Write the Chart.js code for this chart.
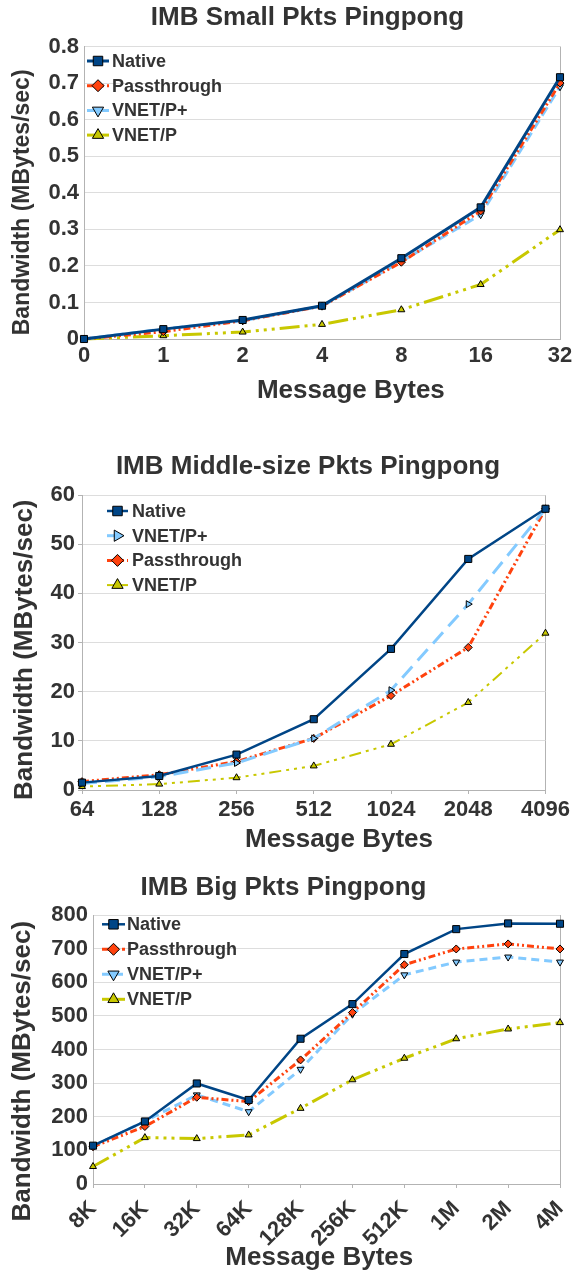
<!DOCTYPE html>
<html>
<head>
<meta charset="utf-8">
<script src="https://cdn.jsdelivr.net/npm/chart.js@4.4.1/dist/chart.umd.min.js"></script>
<style>
  html, body { margin: 0; padding: 0; background: #fff; width: 576px; height: 1274px; overflow: hidden; }
  canvas { position: absolute; left: 0; }
  #small { top: 0; }
  #middle { top: 449px; }
  #big { top: 869px; }
</style>
</head>
<body>
<canvas id="small" width="615" height="408"></canvas>
<canvas id="middle" width="616" height="410"></canvas>
<canvas id="big" width="567" height="405"></canvas>
<script>
// --- data ---
const smallBytes = ['0', '1', '2', '4', '8', '16', '32'];
const smallNative = [0, 0.027, 0.052, 0.091, 0.221, 0.36, 0.716];
const smallPass = [0, 0.02, 0.05, 0.09, 0.21, 0.35, 0.70];
const smallPlus = [0, 0.027, 0.05, 0.09, 0.212, 0.34, 0.69];
const smallVnet = [0, 0.009, 0.019, 0.04, 0.08, 0.149, 0.299];

const midBytes = ['64', '128', '256', '512', '1024', '2048', '4096'];
const midNative = [1.5, 2.85, 7.2, 14.4, 28.7, 47.0, 57.2];
const midPlus = [1.3, 2.7, 5.5, 10.5, 20.3, 37.8, 57.2];
const midPass = [1.7, 3.1, 5.8, 10.5, 19.2, 29.0, 57.2];
const midVnet = [0.7, 1.2, 2.5, 4.9, 9.3, 17.8, 31.9];

const bigBytes = ['8K', '16K', '32K', '64K', '128K', '256K', '512K', '1M', '2M', '4M'];
const bigNative = [114, 186, 299, 250, 432, 535, 684, 758, 775, 774];
const bigPass = [111, 171, 258, 245, 369, 510, 652, 699, 714, 699];
const bigPlus = [112, 187, 265, 215, 341, 505, 622, 660, 675, 660];
const bigVnet = [52, 138, 135, 146, 225, 310, 374, 432, 461, 480];

Chart.defaults.font.family = '"Liberation Sans", Arial, sans-serif';
Chart.defaults.font.weight = 'bold';
Chart.defaults.color = '#333333';

const TEXT = '#333333';
const GRID = '#dddddd';
const AXIS = '#b3b3b3';

// series looks (colours, markers) shared by the panels
function native(data, width) {
  return { label: 'Native', data, borderColor: '#004586', backgroundColor: '#004586', borderWidth: width,
    pointStyle: 'rect', pointRadius: 5, pointBackgroundColor: '#004586', pointBorderColor: '#000', pointBorderWidth: 1,
    legendRadius: 6.7, clip: false };
}
function passthrough(data, width) {
  return { label: 'Passthrough', data, borderColor: '#ff420e', backgroundColor: '#ff420e', borderWidth: width,
    borderDash: [7, 3, 2, 3, 2, 3], pointStyle: 'rectRot', pointRadius: 4, pointBackgroundColor: '#ff420e',
    pointBorderColor: '#000', pointBorderWidth: 1, legendRadius: 6, clip: false };
}
function vnetPlus(data, width, dash, rotation) {
  return { label: 'VNET/P+', data, borderColor: '#83caff', backgroundColor: '#83caff', borderWidth: width,
    borderDash: dash, pointStyle: 'triangle', rotation: rotation, pointRotation: rotation, pointRadius: 4,
    pointBackgroundColor: '#83caff', pointBorderColor: '#000', pointBorderWidth: 1, legendRadius: 6.5, clip: false };
}
function vnet(data, width, dash) {
  return { label: 'VNET/P', data, borderColor: '#c8c800', backgroundColor: '#c8c800', borderWidth: width,
    borderDash: dash, legendDash: [], pointStyle: 'triangle', pointRadius: 4, pointBackgroundColor: '#c8c800',
    pointBorderColor: '#000', pointBorderWidth: 1, legendRadius: 6.5, clip: false };
}

// legend drawn inside the plot, line sample + marker + label
const insideLegend = {
  id: 'insideLegend',
  afterDraw(chart, args, opts) {
    const ctx = chart.ctx;
    const area = chart.chartArea;
    ctx.save();
    chart.data.datasets.forEach((ds, i) => {
      const x = area.left + opts.x;
      const y = area.top + opts.y + i * opts.rowGap;
      ctx.beginPath();
      ctx.setLineDash(ds.legendDash || ds.borderDash || []);
      ctx.lineWidth = ds.borderWidth;
      ctx.strokeStyle = ds.borderColor;
      ctx.moveTo(x, y);
      ctx.lineTo(x + opts.lineLength, y);
      ctx.stroke();
      ctx.setLineDash([]);
      ctx.fillStyle = ds.pointBackgroundColor;
      ctx.strokeStyle = ds.pointBorderColor;
      ctx.lineWidth = 1;
      Chart.helpers.drawPoint(ctx, { pointStyle: ds.pointStyle, rotation: ds.pointRotation || 0,
        radius: ds.legendRadius, borderWidth: 1 }, x + opts.lineLength / 2, y);
      ctx.fillStyle = TEXT;
      ctx.font = 'bold 18px "Liberation Sans", Arial, sans-serif';
      ctx.textBaseline = 'middle';
      ctx.textAlign = 'left';
      ctx.fillText(ds.label, x + opts.lineLength + opts.textGap, y + 1);
    });
    ctx.restore();
  }
};

function xAxis(o) {
  return {
    offset: false,
    ticks: { autoSkip: false, maxRotation: o.rot, minRotation: o.rot, padding: o.tickPad,
      font: { size: 22, weight: 'bold' }, color: TEXT },
    grid: { color: c => (c.index === o.count - 1 ? AXIS : 'rgba(0,0,0,0)'),
      drawTicks: o.tickLen > 0, tickLength: o.tickLen, tickColor: AXIS },
    border: { color: AXIS },
    title: { display: true, text: o.title, font: { size: 26, weight: 'bold' }, color: TEXT,
      padding: { top: 0, bottom: o.titlePad } },
    afterFit(s) { s.height = o.height; s.paddingLeft = 0; s.paddingRight = 0; }
  };
}

function yAxis(o) {
  return {
    min: 0, max: o.max,
    ticks: { stepSize: o.step, padding: o.tickPad, font: { size: 22, weight: 'bold' }, color: TEXT,
      callback: o.callback },
    grid: { color: GRID, drawTicks: o.tickLen > 0, tickLength: o.tickLen, tickColor: AXIS },
    border: { color: AXIS },
    title: { display: true, text: o.title, font: { size: o.titleSize, weight: 'bold' }, color: TEXT,
      padding: { top: o.titlePad, bottom: 0 } },
    afterFit(s) { s.width = o.width; s.paddingTop = 0; s.paddingBottom = 0; }
  };
}

// empty right-hand strip so the page title centres like the original
function spacer(width) {
  return {
    type: 'linear', position: 'right', display: true,
    grid: { display: false }, border: { display: false }, ticks: { display: false },
    afterFit(s) { s.width = width; s.paddingTop = 0; s.paddingBottom = 0; }
  };
}

function panel(id, o) {
  return new Chart(document.getElementById(id), {
    type: 'line',
    data: { labels: o.labels, datasets: o.datasets },
    options: {
      responsive: false,
      animation: false,
      layout: { padding: 0 },
      elements: { line: { tension: 0 } },
      plugins: {
        legend: { display: false },
        tooltip: { enabled: false },
        title: { display: true, text: o.title, font: { size: 26, weight: 'bold' }, color: TEXT,
          padding: { top: o.titleTop, bottom: o.titleBottom } },
        insideLegend: o.legend
      },
      scales: { x: o.x, y: o.y, r: spacer(o.right) }
    },
    plugins: [insideLegend]
  });
}

panel('small', {
  title: 'IMB Small Pkts Pingpong', titleTop: 2.7, titleBottom: 12.6, right: 55,
  labels: smallBytes,
  datasets: [
    native(smallNative, 3),
    passthrough(smallPass, 3),
    vnetPlus(smallPlus, 3, [10, 5], 180),
    vnet(smallVnet, 3, [20, 5, 3, 5, 3, 5, 3, 5])
  ],
  legend: { x: 3, y: 14.5, rowGap: 24.7, lineLength: 22, textGap: 3 },
  x: xAxis({ count: smallBytes.length, rot: 0, tickPad: 4, tickLen: 0, height: 69, titlePad: 1.4,
    title: '        Message Bytes' }),
  y: yAxis({ max: 0.8, step: 0.1, tickPad: 5, tickLen: 0, width: 84, titleSize: 23, titlePad: 9.2,
    title: 'Bandwidth (MBytes/sec)   ' })
});

panel('middle', {
  title: 'IMB Middle-size Pkts Pingpong', titleTop: 2.4, titleBottom: 12.4, right: 70.5,
  labels: midBytes,
  datasets: [
    native(midNative, 2.5),
    vnetPlus(midPlus, 3, [15, 8], 90),
    passthrough(midPass, 3),
    vnet(midVnet, 2, [3, 5, 3, 5, 3, 5, 12, 5])
  ],
  legend: { x: 25, y: 16, rowGap: 24.7, lineLength: 21, textGap: 4 },
  x: xAxis({ count: midBytes.length, rot: 0, tickPad: 3, tickLen: 4, height: 69, titlePad: 3.4,
    title: '       Message Bytes' }),
  y: yAxis({ max: 60, step: 5, tickPad: 3, tickLen: 4, width: 82, titleSize: 26, titlePad: 9,
    title: 'Bandwidth (MBytes/sec)  ', callback: v => (v % 10 === 0 ? v : '') })
});

panel('big', {
  title: 'IMB Big Pkts Pingpong', titleTop: 3.1, titleBottom: 11.7, right: 7,
  labels: bigBytes,
  datasets: [
    native(bigNative, 2.5),
    passthrough(bigPass, 3),
    vnetPlus(bigPlus, 3, [8, 5], 180),
    vnet(bigVnet, 3, [18, 5, 3, 5, 3, 5, 3, 5])
  ],
  legend: { x: 9, y: 9.3, rowGap: 25, lineLength: 23, textGap: 2 },
  x: xAxis({ count: bigBytes.length, rot: 45, tickPad: 8, tickLen: 4, height: 90, titlePad: 0.4,
    title: 'Message Bytes  ' }),
  y: yAxis({ max: 800, step: 100, tickPad: 5, tickLen: 0, width: 93, titleSize: 26, titlePad: 7.7,
    title: 'Bandwidth (MBytes/sec)      ' })
});
</script>
</body>
</html>
